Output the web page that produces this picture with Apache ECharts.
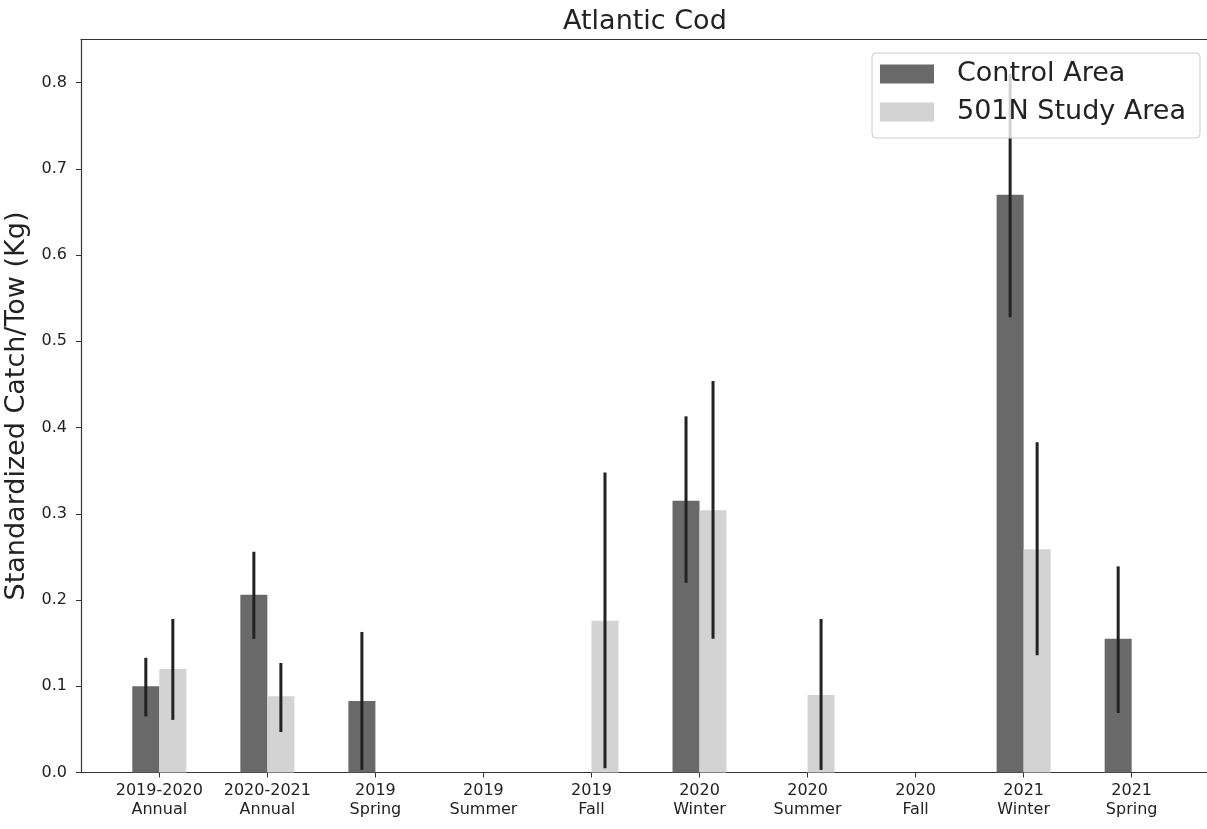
<!DOCTYPE html>
<html>
<head>
<meta charset="utf-8">
<script src="https://cdn.jsdelivr.net/npm/echarts@6/dist/echarts.min.js"></script>
<style>html,body{margin:0;padding:0;background:#fff}#c{width:1207px;height:829px}</style>
</head>
<body>
<div id="c"></div>
<script>
const categories = ['2019-2020\nAnnual','2020-2021\nAnnual','2019\nSpring','2019\nSummer','2019\nFall','2020\nWinter','2020\nSummer','2020\nFall','2021\nWinter','2021\nSpring'];
const controlValues = [0.100, 0.206, 0.083, null, null, 0.315, null, null, 0.670, 0.155];
const controlLow    = [0.065, 0.155, 0.003, null, null, 0.220, null, null, 0.528, 0.069];
const controlHigh   = [0.133, 0.256, 0.163, null, null, 0.413, null, null, 0.810, 0.239];
const studyValues   = [0.120, 0.0885, null, null, 0.176, 0.304, 0.090, null, 0.259, null];
const studyLow      = [0.061, 0.047, null, null, 0.005, 0.155, 0.003, null, 0.136, null];
const studyHigh     = [0.178, 0.127, null, null, 0.348, 0.454, 0.178, null, 0.383, null];
const yTicks = [0, 0.1, 0.2, 0.3, 0.4, 0.5, 0.6, 0.7, 0.8];

const BAR_W = 0.25;
const FONT = 'DejaVu Sans';

function buildData(vals, lo, hi) {
  const out = [];
  vals.forEach((v, i) => { if (v !== null) out.push([i, v, lo[i], hi[i]]); });
  return out;
}
function makeRender(offset, color) {
  return function (params, api) {
    const x = api.value(0), v = api.value(1), lo = api.value(2), hi = api.value(3);
    const p0 = api.coord([x + offset, v]);
    const p1 = api.coord([x + offset + BAR_W, 0]);
    const cx = api.coord([x + offset + BAR_W / 2, 0])[0];
    const pl = api.coord([x, lo]);
    const ph = api.coord([x, hi]);
    return {
      type: 'group',
      children: [
        { type: 'rect', shape: { x: p0[0], y: p0[1], width: p1[0] - p0[0], height: p1[1] - p0[1] }, style: { fill: color } },
        { type: 'line', shape: { x1: cx, y1: pl[1], x2: cx, y2: ph[1] }, style: { stroke: '#222', lineWidth: 3 } }
      ]
    };
  };
}

const chart = echarts.init(document.getElementById('c'), null, { renderer: 'canvas' });
chart.setOption({
  animation: false,
  backgroundColor: '#fff',
  title: {
    text: 'Atlantic Cod', left: 558, top: 3,
    textStyle: { fontFamily: FONT, fontSize: 27, fontWeight: 'normal', color: '#222' }
  },
  legend: {
    orient: 'vertical', left: 872, top: 53,
    itemWidth: 54, itemHeight: 19, itemGap: 8, icon: 'rect',
    padding: [6, 14, 11, 8],
    backgroundColor: 'rgba(255,255,255,0.8)', borderColor: '#cccccc', borderWidth: 1, borderRadius: 4,
    textStyle: { fontFamily: FONT, fontSize: 27, lineHeight: 30, color: '#222', padding: [0, 0, 0, 18] },
    data: ['Control Area', '501N Study Area']
  },
  grid: { left: 81, top: 39.5, width: 1129, height: 733, show: false, outerBoundsMode: 'none', containLabel: false },
  xAxis: [{
    type: 'value', min: -0.725, max: 9.725,
    splitLine: { show: false },
    axisLine: { show: true, onZero: false, lineStyle: { color: '#333', width: 1.2 } },
    axisTick: { show: true, length: 5, lineStyle: { color: '#333' }, customValues: categories.map((c, i) => i) },
    axisLabel: {
      customValues: categories.map((c, i) => i),
      formatter: v => categories[Math.round(v)] || '',
      fontFamily: FONT, fontSize: 16, lineHeight: 19, color: '#222', margin: 9
    }
  }, {
    type: 'value', position: 'top', min: -0.725, max: 9.725,
    splitLine: { show: false },
    axisLine: { show: true, onZero: false, lineStyle: { color: '#333', width: 1.2 } },
    axisTick: { show: false }, axisLabel: { show: false }
  }],
  yAxis: {
    type: 'value', min: 0, max: 0.85,
    name: 'Standardized Catch/Tow (Kg)', nameLocation: 'middle', nameGap: 49, nameRotate: 90,
    nameTextStyle: { fontFamily: FONT, fontSize: 27, color: '#222' },
    splitLine: { show: false },
    axisLine: { show: true, onZero: false, lineStyle: { color: '#333', width: 1.2 } },
    axisTick: { show: true, length: 5, lineStyle: { color: '#333' }, customValues: yTicks },
    axisLabel: {
      customValues: yTicks, formatter: v => v.toFixed(1),
      fontFamily: FONT, fontSize: 16, color: '#222', margin: 14
    }
  },
  series: [
    {
      name: 'Control Area', type: 'custom', itemStyle: { color: '#696969' },
      renderItem: makeRender(-BAR_W, '#696969'),
      data: buildData(controlValues, controlLow, controlHigh), z: 2
    },
    {
      name: '501N Study Area', type: 'custom', itemStyle: { color: '#d3d3d3' },
      renderItem: makeRender(0, '#d3d3d3'),
      data: buildData(studyValues, studyLow, studyHigh), z: 2
    }
  ]
});
</script>
</body>
</html>
